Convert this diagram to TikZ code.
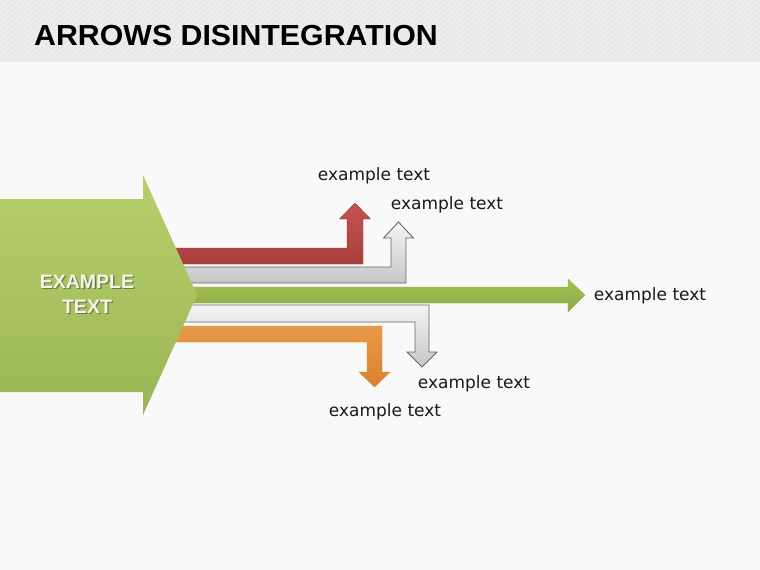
\documentclass[tikz,border=0pt]{standalone}
\usepackage{fontspec}
\setmainfont{Liberation Sans}
\newfontfamily\labelfont{DejaVu Sans}
\definecolor{bgbody}{HTML}{F9F9F9}
\definecolor{bghead}{HTML}{EDEDED}
\definecolor{bgstripe}{HTML}{E4E4E4}
\definecolor{greentop}{HTML}{B6D06A}
\definecolor{greenbot}{HTML}{9BB656}
\definecolor{greenband}{HTML}{A3C155}
\definecolor{greenbanddk}{HTML}{8FAA48}
\definecolor{redtop}{HTML}{C65450}
\definecolor{redbot}{HTML}{A8403D}
\definecolor{orangetop}{HTML}{E89A48}
\definecolor{orangebot}{HTML}{D9822F}
\definecolor{graytop}{HTML}{F4F4F4}
\definecolor{graybot}{HTML}{C6C6C6}
\definecolor{grayline}{HTML}{666666}
\definecolor{captext}{HTML}{F6F4E2}
\definecolor{capshadow}{HTML}{3E4C1A}
\tikzset{
  bandred/.style={top color=redtop, bottom color=redbot, draw=redbot!80!black, line width=0.3pt},
  bandorange/.style={top color=orangetop, bottom color=orangebot, draw=orangebot, line width=0.3pt},
  bandgray/.style={top color=graytop, bottom color=graybot, draw=grayline, line width=0.9pt},
  bandgreen/.style={top color=greenband, bottom color=greenbanddk, draw=greenbanddk, line width=0.3pt},
  bigarrow/.style={top color=greentop, bottom color=greenbot, draw=none},
  lbl/.style={font=\labelfont\fontsize{17}{19}\selectfont, text=black!90, inner sep=0pt},
  captxt/.style={font=\bfseries\fontsize{19.5}{25}\selectfont, align=center, inner sep=0pt},
}
\begin{document}
\begin{tikzpicture}[x=1pt,y=-1pt]
\useasboundingbox (0,0) rectangle (760,570);
% background
\fill[bgbody] (0,0) rectangle (760,570);
\fill[bghead] (0,0) rectangle (760,62);
\begin{scope}
\clip (0,0) rectangle (760,62);
\foreach \i in {0,6,...,840} {
  \draw[bgstripe, line width=0.6pt] (\i-70,62) -- (\i,0);
}
\end{scope}
% title
\node[anchor=west, inner sep=0pt, font=\bfseries\fontsize{29}{32}\selectfont] (title) at (34,36) {\scalebox{1.045}[1]{ARROWS DISINTEGRATION}};

% red band (up)
\path[bandred] (175,264) -- (363,264) -- (363,219) -- (370.5,219) -- (355,203) -- (339.5,219) -- (347,219) -- (347,248) -- (175,248) -- cycle;
% gray upper band (up)
\path[bandgray] (175,283) -- (406,283) -- (406,238) -- (413.5,238) -- (398.5,222) -- (383.5,238) -- (391,238) -- (391,267) -- (175,267) -- cycle;
% green centre band
\path[bandgreen] (175,287) -- (568,287) -- (568,279) -- (585,295) -- (568,312) -- (568,303) -- (175,303) -- cycle;
% gray lower band (down)
\path[bandgray] (175,305) -- (429,305) -- (429,352) -- (437,352) -- (422,367) -- (407,352) -- (415,352) -- (415,322) -- (175,322) -- cycle;
% orange band (down)
\path[bandorange] (175,326) -- (382,326) -- (382,372) -- (390,372) -- (374.5,387) -- (359,372) -- (367,372) -- (367,342) -- (175,342) -- cycle;

% big arrow
\path[bigarrow] (0,199) -- (143,199) -- (143,175) -- (197,295) -- (143,415) -- (143,392) -- (0,392) -- cycle;
\node[captxt, text=capshadow!75] (capsh) at (88.3,295.3) {EXAMPLE\\TEXT};
\node[captxt, text=captext] (caption) at (87,294) {EXAMPLE\\TEXT};

% labels
\node[lbl] (l1) at (374,176) {example text};
\node[lbl] (l2) at (447,205) {example text};
\node[lbl] (l3) at (650,296) {example text};
\node[lbl] (l4) at (474,384) {example text};
\node[lbl] (l5) at (385,412) {example text};
\end{tikzpicture}
\end{document}
